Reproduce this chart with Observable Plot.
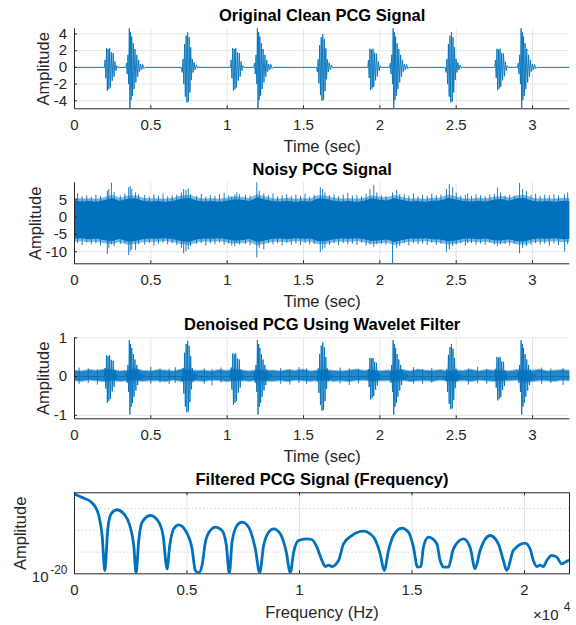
<!DOCTYPE html>
<html><head><meta charset="utf-8">
<script src="https://cdn.jsdelivr.net/npm/d3@7"></script>
<script src="https://cdn.jsdelivr.net/npm/@observablehq/plot@0.6"></script>
<style>
body{margin:0;background:#fff;}
#fig{position:relative;width:576px;height:625px;background:#fff;overflow:hidden;}
</style></head><body><div id="fig"></div>
<script>
// ---------------- data ----------------
const timeTicks = [0, 0.5, 1, 1.5, 2, 2.5, 3];
const cleanYTicks = [-4, -2, 0, 2, 4];
const noisyYTicks = [-10, -5, 0, 5];
const denoisedYTicks = [-1, 0, 1];
const freqTicks = [0, 5000, 10000, 15000, 20000];
const freqTickLabels = ["0", "0.5", "1", "1.5", "2"];
const specGridLines = [1e-15, 1e-10, 1e-5];

// heart-sound burst shapes (time offset in s, amplitude)
const shapeA_t = [0, 0.004, 0.009, 0.014, 0.019, 0.024, 0.029, 0.034, 0.039, 0.045, 0.051, 0.057, 0.063, 0.069, 0.075, 0.081, 0.088];
const shapeA_v = [0, 0.9, -1.3, 2.3, -2.8, 2.2, -2.6, 2.3, -2.4, 1.8, -1.6, 1.7, -1.1, 0.7, -0.4, 0.2, 0];
const shapeB_t = [0, 0.006, 0.010, 0.015, 0.020, 0.024, 0.028, 0.032, 0.036, 0.040, 0.045, 0.050, 0.055, 0.061, 0.067, 0.073, 0.079, 0.085, 0.091, 0.098, 0.105, 0.112, 0.120, 0.128];
const shapeB_v = [0, 0.5, -0.8, 1.5, -2.0, 4.7, -4.9, 4.2, -3.9, 3.7, -3.4, 2.9, -2.6, 2.2, -1.8, 1.5, -1.1, 0.9, -0.5, 0.4, -0.3, 0.35, -0.15, 0];
const shapeC_t = [0, 0.006, 0.011, 0.016, 0.021, 0.026, 0.031, 0.036, 0.041, 0.046, 0.051, 0.056, 0.061, 0.066, 0.071, 0.077, 0.083, 0.090, 0.098, 0.106, 0.114];
const shapeC_v = [0, -0.6, 1.0, -2.0, 2.8, -3.5, 3.8, -4.2, 4.2, -4.1, 3.6, -3.0, 2.4, -1.5, 1.0, -0.6, 0.6, -0.3, 0.3, -0.1, 0];

const onsetsA = [0.196, 1.022, 1.921, 2.753];
const onsetsB = [0.335, 1.174, 2.063, 2.901];
const onsetsC = [0.700, 1.585, 2.428];
const cleanGainA = [1, 1, 0.97, 0.97];
const cleanGainB = [1, 1, 1, 1];
const cleanGainC = [1, 0.95, 1];
const denoisedGainA = [0.24, 0.26, 0.21, 0.22];
const denoisedGainB = [0.2, 0.2, 0.2, 0.2];
const denoisedGainC = [0.22, 0.21, 0.2];

// noisy signal: envelope of the dense band and protruding spikes
const envT = [0,0.05,0.1,0.15,0.2,0.25,0.3,0.35,0.4,0.45,0.5,0.55,0.6,0.65,0.7,0.75,0.8,0.85,0.9,0.95,1,1.05,1.1,1.15,1.2,1.25,1.3,1.35,1.4,1.45,1.5,1.55,1.6,1.65,1.7,1.75,1.8,1.85,1.9,1.95,2,2.05,2.1,2.15,2.2,2.25,2.3,2.35,2.4,2.45,2.5,2.55,2.6,2.65,2.7,2.75,2.8,2.85,2.9,2.95,3,3.05,3.1,3.15,3.2,3.25];
const noisyHi = [4.6,4.4,4.5,4.3,4.8,5.4,4.5,5.2,5.3,4.6, 4.4,4.5,4.3,4.6,5.2,5.5,4.7,4.4,4.5,4.3, 4.6,5.0,4.9,4.5,5.6,5.0,4.5,4.4,4.6,4.3, 4.5,4.4,5.3,5.2,4.6,4.4,4.5,4.3,4.6,5.3, 4.9,4.7,5.4,4.8,4.4,4.5,4.3,4.6,4.7,5.5, 5.0,4.5,4.4,4.6,4.4,4.9,5.1,4.6,5.3,5.4, 4.6,4.4,4.5,4.3,4.6,4.5];
const noisyLo = [-6.4,-6.2,-6.5,-6.3,-6.8,-7.0,-6.4,-7.2,-7.0,-6.5, -6.3,-6.4,-6.2,-6.5,-7.0,-7.3,-6.6,-6.3,-6.4,-6.2, -6.5,-6.9,-6.8,-6.4,-7.4,-6.9,-6.4,-6.3,-6.5,-6.2, -6.4,-6.3,-7.1,-7.0,-6.5,-6.3,-6.4,-6.2,-6.5,-7.0, -6.8,-6.6,-7.3,-6.7,-6.3,-6.4,-6.2,-6.5,-6.6,-7.2, -6.9,-6.4,-6.3,-6.5,-6.3,-6.8,-6.9,-6.5,-7.1,-7.2, -6.5,-6.3,-6.4,-6.2,-6.5,-6.4];
const noisySpikeT  = [0.02,0.05,0.08,0.11,0.14,0.17,0.215,0.225,0.242,0.26,0.30,0.33,0.355,0.365,0.375,0.40,0.42,0.46,0.49,0.52,0.55,0.58,0.61,0.64,0.67,0.70,0.715,0.73,0.745,0.76,0.80,0.83,0.86,0.89,0.92,0.95,0.98,1.01,1.03,1.05,1.063,1.08,1.12,1.15,1.194,1.21,1.24,1.27,1.30,1.33,1.36,1.39,1.42,1.45,1.48,1.51,1.54,1.57,1.61,1.625,1.64,1.67,1.70,1.73,1.76,1.79,1.82,1.85,1.88,1.91,1.935,1.96,1.98,2.01,2.04,2.083,2.11,2.13,2.16,2.19,2.22,2.25,2.28,2.31,2.34,2.37,2.40,2.436,2.455,2.477,2.50,2.53,2.56,2.575,2.60,2.63,2.66,2.69,2.72,2.75,2.77,2.79,2.82,2.85,2.88,2.915,2.935,2.96,2.99,3.02,3.05,3.08,3.11,3.14,3.17,3.21,3.23];
const noisySpikeLo = [-7.6,-8.2,-7.4,-8.0,-7.7,-8.3,-10.8,-9.0,-8.0,-8.5,-7.9,-7.5,-11.1,-10.0,-9.5,-9.7,-8.0,-8.1,-7.6,-8.4,-7.8,-7.5,-8.0,-7.7,-8.2,-9.0,-10.6,-10.0,-9.5,-8.5,-7.9,-7.6,-8.3,-7.7,-8.0,-7.5,-8.1,-7.8,-8.4,-8.5,-7.6,-8.0,-7.9,-8.2,-11.8,-9.0,-9.5,-7.6,-8.0,-7.7,-8.3,-7.5,-8.1,-7.8,-8.2,-7.6,-8.0,-7.9,-10.2,-9.5,-9.0,-8.1,-7.7,-8.3,-7.6,-8.0,-7.8,-8.2,-7.5,-8.4,-8.0,-8.7,-8.0,-7.9,-8.1,-13.6,-9.0,-8.5,-7.7,-8.3,-7.6,-8.0,-7.8,-8.2,-7.5,-8.1,-7.9,-10.2,-9.5,-8.5,-8.0,-7.7,-8.3,-7.6,-7.6,-8.1,-7.8,-8.2,-7.5,-8.0,-8.5,-8.0,-7.9,-8.3,-7.7,-10.6,-9.0,-8.5,-8.1,-7.6,-8.0,-7.8,-8.4,-7.7,-8.2,-10.0,-7.9];
const noisySpikeHi = [6.8,5.9,6.2,5.7,6.4,6.0,7.5,8.0,9.9,7.2,6.1,6.6,8.5,8.8,8.0,7.0,6.5,6.3,5.8,6.5,6.0,6.7,5.9,6.2,6.4,7.0,8.0,7.8,8.2,6.5,6.1,6.6,5.8,6.3,6.0,6.5,6.9,6.2,6.0,6.4,7.0,6.5,6.4,6.1,10.0,7.5,6.8,6.3,6.7,5.9,6.2,6.5,6.0,6.4,6.1,6.6,5.8,6.3,8.5,8.0,7.0,6.2,6.5,6.0,6.4,6.8,6.1,6.3,5.9,6.6,8.0,9.2,7.0,6.2,6.0,7.0,7.7,6.5,6.5,6.1,6.7,5.9,6.3,6.0,6.6,6.2,6.4,8.0,9.4,8.5,6.9,6.1,6.3,6.8,6.0,6.5,6.2,5.9,6.4,6.6,8.4,7.0,6.1,6.4,6.0,9.8,8.0,7.5,6.3,6.7,6.0,6.4,6.2,6.5,6.1,6.5,7.0];

// denoised signal: residual noise band and small spikes
const denoisedHi = [0.14,0.12,0.15,0.13,0.16,0.15,0.12,0.14,0.17,0.13, 0.12,0.15,0.14,0.12,0.16,0.15,0.13,0.14,0.12,0.15, 0.13,0.16,0.14,0.12,0.15,0.13,0.14,0.12,0.15,0.13, 0.16,0.12,0.14,0.15,0.13,0.12,0.14,0.16,0.13,0.15, 0.12,0.14,0.13,0.15,0.12,0.16,0.14,0.13,0.15,0.12, 0.14,0.13,0.16,0.12,0.15,0.14,0.13,0.12,0.15,0.14, 0.13,0.16,0.12,0.14,0.15,0.13];
const denoisedLo = [-0.10,-0.12,-0.09,-0.11,-0.13,-0.10,-0.12,-0.11,-0.09,-0.12, -0.10,-0.11,-0.13,-0.09,-0.12,-0.10,-0.11,-0.12,-0.09,-0.10, -0.13,-0.11,-0.10,-0.12,-0.09,-0.11,-0.12,-0.10,-0.13,-0.09, -0.11,-0.12,-0.10,-0.09,-0.12,-0.11,-0.13,-0.10,-0.09,-0.12, -0.11,-0.10,-0.12,-0.09,-0.13,-0.11,-0.10,-0.12,-0.09,-0.11, -0.12,-0.10,-0.13,-0.09,-0.11,-0.12,-0.10,-0.11,-0.09,-0.12, -0.13,-0.10,-0.11,-0.12,-0.09,-0.11];
const denoisedSpikeT  = [0.03,0.09,0.15,0.50,0.56,0.62,0.66,0.85,0.90,0.96,1.35,1.41,1.47,1.52,1.74,1.80,1.86,2.22,2.28,2.34,2.58,2.64,2.70,3.06,3.12,3.20];
const denoisedSpikeLo = [-0.20,-0.18,-0.22,-0.20,-0.17,-0.21,-0.18,-0.20,-0.24,-0.17,-0.20,-0.22,-0.18,-0.20,-0.19,-0.23,-0.18,-0.20,-0.21,-0.17,-0.22,-0.18,-0.20,-0.21,-0.18,-0.23];
const denoisedSpikeHi = [0.22,0.20,0.18,0.24,0.20,0.19,0.23,0.20,0.18,0.22,0.21,0.18,0.23,0.20,0.22,0.20,0.19,0.23,0.18,0.21,0.20,0.24,0.19,0.22,0.20,0.21];

// spectrum (Hz, log10 amplitude)
const specFreq = [0,200,414,710,932,1080,1228,1347,1480,1628,1894,2190,2457,2634,2738,2856,3004,3374,3700,3937,4115,4233,4411,4633,4928,5224,5372,5520,5668,5816,6038,6260,6556,6749,6882,7000,7223,7445,7741,8036,8230,8407,8628,8850,9146,9413,9590,9739,9961,10300,10550,10775,10997,11144,11300,11441,11735,11957,12330,12846,13289,13586,13764,13955,14177,14550,14843,15065,15243,15393,15509,15731,16104,16250,16428,16619,16841,17285,17582,17804,18026,18470,18839,19061,19212,19505,20024,20246,20393,20543,20690,20837,20988,21210,21432,21654,21947,22000];
const specLog10 = [-1.6,-2.1,-2.58,-3.34,-4.66,-6.57,-11.18,-19.24,-9.63,-6.18,-5.25,-6.18,-8.87,-13.48,-19.8,-12.33,-8.11,-6.57,-7.72,-11.18,-18.85,-13.48,-9.63,-8.71,-10.02,-14.24,-19.24,-19.77,-18.09,-12.72,-10.02,-9.26,-10.02,-13.48,-19.9,-12.72,-8.87,-8.11,-9.26,-14.24,-19.77,-13.48,-10.42,-9.63,-10.78,-15.02,-19.77,-15.02,-12.33,-11.94,-12.1,-13.87,-16.94,-18.32,-18.0,-18.32,-16.94,-13.09,-11.18,-10.18,-11.57,-15.39,-19.24,-14.63,-11.18,-9.49,-10.42,-13.87,-18.48,-18.32,-13.87,-11.57,-13.09,-16.94,-18.48,-18.48,-14.24,-11.94,-13.87,-18.85,-14.63,-11.18,-13.09,-16.94,-19.24,-14.63,-12.95,-14.24,-16.94,-18.32,-18.0,-18.32,-16.94,-15.78,-16.17,-17.70,-16.94,-16.9];

// ---------------- assemble tables ----------------
function bursts(gA, gB, gC) {
  const pts = [{t: 0, v: 0}];
  const add = (onsets, gains, st, sv) => onsets.forEach((o, k) => st.forEach((dt, i) => pts.push({t: o + dt, v: sv[i] * gains[k]})));
  add(onsetsA, gA, shapeA_t, shapeA_v);
  add(onsetsB, gB, shapeB_t, shapeB_v);
  add(onsetsC, gC, shapeC_t, shapeC_v);
  pts.push({t: 3.244, v: 0});
  return pts.sort((a, b) => a.t - b.t);
}
const cleanData = bursts(cleanGainA, cleanGainB, cleanGainC);
const denoisedData = bursts(denoisedGainA, denoisedGainB, denoisedGainC);
const noisyEnv = envT.map((t, i) => ({t, lo: noisyLo[i], hi: noisyHi[i]}));
const noisySpikes = noisySpikeT.map((t, i) => ({t, lo: noisySpikeLo[i], hi: noisySpikeHi[i]}));
const denoisedEnv = envT.map((t, i) => ({t, lo: denoisedLo[i], hi: denoisedHi[i]}));
const denoisedSpikes = denoisedSpikeT.map((t, i) => ({t, lo: denoisedSpikeLo[i], hi: denoisedSpikeHi[i]}));
const spectrum = specFreq.map((f, i) => ({f, a: Math.pow(10, specLog10[i])}));

// ---------------- drawing ----------------
const W = 576, ML = 74, MR = 6.7;
const FW = W - ML - MR;
const BLUE = "#0072BD", AX = "#262626", GRID = "#e5e5e5";
const FONT = "'Liberation Sans', Arial, Helvetica, sans-serif";
const fig = document.getElementById("fig");

function place(svg, top) {
  svg.style.position = "absolute";
  svg.style.left = "0px";
  svg.style.top = top + "px";
  fig.appendChild(svg);
}

function timePanel({top, mt, yDomain, yTicks, title, ylabelX, data}) {
  const height = 155, mb = 46.7;
  const FH = height - mt - mb;
  const svg = Plot.plot({
    width: W, height, marginLeft: ML, marginRight: MR, marginTop: mt, marginBottom: mb,
    x: {domain: [0, 3.244], axis: null},
    y: {domain: yDomain, axis: null},
    style: {fontFamily: FONT, background: "transparent", overflow: "visible"},
    marks: [
      Plot.ruleX(timeTicks, {x: d => d, stroke: GRID, strokeWidth: 1}),
      Plot.ruleY(yTicks, {y: d => d, stroke: GRID, strokeWidth: 1}),
      ...data,
      Plot.ruleX([0], {x: d => d, stroke: AX, strokeWidth: 1}),
      Plot.ruleY([yDomain[0]], {y: d => d, stroke: AX, strokeWidth: 1}),
      Plot.tickX(timeTicks, {x: d => d, insetTop: FH - 3, stroke: AX}),
      Plot.tickY(yTicks, {y: d => d, insetRight: FW - 3, stroke: AX}),
      Plot.text(timeTicks, {x: d => d, text: d => String(d), frameAnchor: "bottom", dy: 16.7, lineAnchor: "middle", fontSize: 15, fill: AX}),
      Plot.text(yTicks, {y: d => d, text: d => String(d), frameAnchor: "left", dx: -7.3, textAnchor: "end", lineAnchor: "middle", fontSize: 15, fill: AX}),
      Plot.text([title], {text: d => d, frameAnchor: "top", dy: -12.8, lineAnchor: "middle", fontSize: 16.5, fontWeight: "bold", fill: "#000"}),
      Plot.text(["Time (sec)"], {text: d => d, frameAnchor: "bottom", dy: 37.7, lineAnchor: "middle", fontSize: 16.5, fill: AX}),
      Plot.text(["Amplitude"], {text: d => d, frameAnchor: "left", dx: ylabelX - ML, rotate: -90, textAnchor: "middle", lineAnchor: "middle", fontSize: 16.5, fill: AX})
    ]
  });
  place(svg, top);
}

// Panel 1: clean
timePanel({
  top: 0, mt: 28.3, yDomain: [-4.96, 4.62], yTicks: cleanYTicks,
  title: "Original Clean PCG Signal", ylabelX: 43.5,
  data: [Plot.line(cleanData, {x: "t", y: "v", stroke: BLUE, strokeWidth: 0.9, clip: true})]
});

// Panel 2: noisy
timePanel({
  top: 155, mt: 27.3, yDomain: [-13.47, 9.94], yTicks: noisyYTicks,
  title: "Noisy PCG Signal", ylabelX: 35,
  data: [
    Plot.areaY(noisyEnv, {x: "t", y1: "lo", y2: "hi", fill: BLUE, stroke: BLUE, strokeOpacity: 0.5, strokeWidth: 6, clip: true}),
    Plot.ruleX(noisySpikes, {x: "t", y1: "lo", y2: "hi", stroke: BLUE, strokeWidth: 0.9, clip: true})
  ]
});

// Panel 3: denoised
timePanel({
  top: 310, mt: 27.3, yDomain: [-1.09, 1.0], yTicks: denoisedYTicks,
  title: "Denoised PCG Using Wavelet Filter", ylabelX: 43,
  data: [
    Plot.areaY(denoisedEnv, {x: "t", y1: "lo", y2: "hi", fill: BLUE, fillOpacity: 0.85, stroke: BLUE, strokeOpacity: 0.45, strokeWidth: 2.5, clip: true}),
    Plot.ruleX(denoisedSpikes, {x: "t", y1: "lo", y2: "hi", stroke: BLUE, strokeWidth: 0.9, clip: true}),
    Plot.line(denoisedData, {x: "t", y: "v", stroke: BLUE, strokeWidth: 0.9, clip: true})
  ]
});

// Panel 4: spectrum
(function () {
  const height = 160, mt = 27.3, mb = 51.7, MR4 = 7;
  const FH = height - mt - mb;
  const svg = Plot.plot({
    width: W, height, marginLeft: ML, marginRight: MR4, marginTop: mt, marginBottom: mb,
    x: {domain: [0, 22000], axis: null},
    y: {type: "log", domain: [1e-20, Math.pow(10, -1.34)], axis: null},
    style: {fontFamily: FONT, background: "transparent", overflow: "visible"},
    marks: [
      Plot.ruleX(freqTicks, {x: d => d, stroke: GRID, strokeWidth: 1}),
      Plot.ruleY(specGridLines, {y: d => d, stroke: "#c8c8c8", strokeWidth: 1, strokeDasharray: "1.2,2.6"}),
      Plot.line(spectrum, {x: "f", y: "a", stroke: BLUE, strokeWidth: 2.8, curve: "monotone-x", clip: true}),
      Plot.frame({stroke: AX, strokeWidth: 1}),
      Plot.tickX(freqTicks, {x: d => d, insetTop: FH - 3, stroke: AX}),
      Plot.tickX(freqTicks, {x: d => d, insetBottom: FH - 3, stroke: AX}),
      Plot.text(freqTicks, {x: d => d, text: (d, i) => freqTickLabels[i], frameAnchor: "bottom", dy: 16.7, lineAnchor: "middle", fontSize: 15, fill: AX}),
      Plot.text([1e-20], {y: d => d, text: () => "10", frameAnchor: "left", dx: -26, dy: 3.4, textAnchor: "end", lineAnchor: "middle", fontSize: 15, fill: AX}),
      Plot.text([1e-20], {y: d => d, text: () => "-20", frameAnchor: "left", dx: -7, dy: -4, textAnchor: "end", lineAnchor: "middle", fontSize: 12, fill: AX}),
      Plot.text(["Filtered PCG Signal (Frequency)"], {text: d => d, frameAnchor: "top", dy: -12.8, lineAnchor: "middle", fontSize: 16.5, fontWeight: "bold", fill: "#000"}),
      Plot.text(["Frequency (Hz)"], {text: d => d, frameAnchor: "bottom", dy: 38.5, lineAnchor: "middle", fontSize: 16.5, fill: AX}),
      Plot.text(["Amplitude"], {text: d => d, frameAnchor: "left", dx: 20.5 - ML, rotate: -90, textAnchor: "middle", lineAnchor: "middle", fontSize: 16.5, fill: AX}),
      Plot.text(["\u00d710"], {text: d => d, frameAnchor: "bottom-right", dx: -11, dy: 41.7, textAnchor: "end", lineAnchor: "middle", fontSize: 15, fill: AX}),
      Plot.text(["4"], {text: d => d, frameAnchor: "bottom-right", dx: 1, dy: 33.4, textAnchor: "end", lineAnchor: "middle", fontSize: 12, fill: AX})
    ]
  });
  place(svg, 465);
})();
</script>
</body></html>
